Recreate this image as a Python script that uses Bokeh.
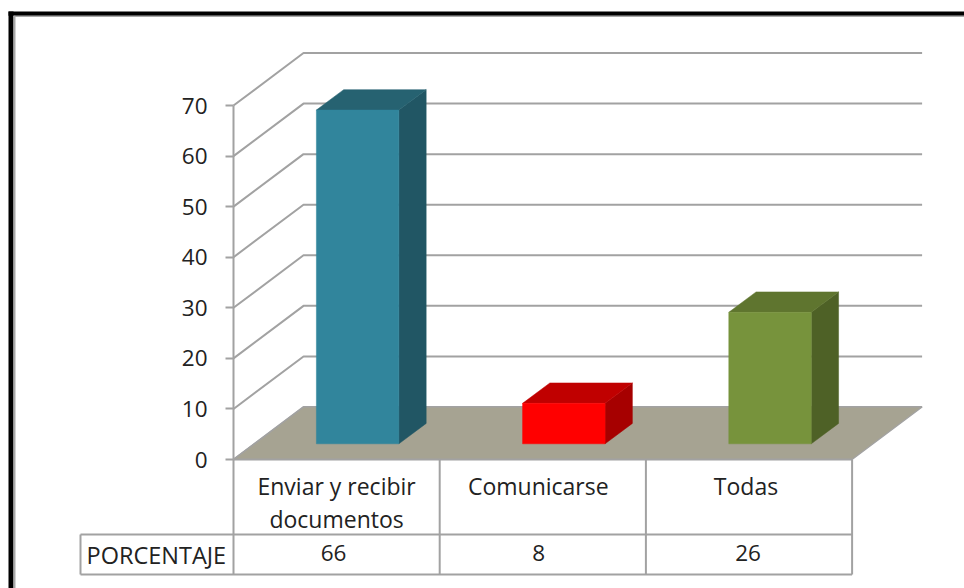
from bokeh.plotting import figure
from bokeh.models import LinearAxis, FixedTicker, Range1d
from bokeh.core.properties import value
from bokeh.embed import file_html
from bokeh.resources import INLINE

categories = ["Enviar y recibir\ndocumentos", "Comunicarse", "Todas"]
values = [66, 8, 26]
y_ticks = [0, 10, 20, 30, 40, 50, 60, 70]
row_name = "PORCENTAJE"

front_colors = ["#31859C", "#FF0000", "#77933C"]
top_colors = ["#266271", "#C00000", "#5F752F"]
side_colors = ["#215664", "#A60000", "#4E6126"]
GREY = "#A2A2A2"
FLOOR = "#A6A392"
TEXT = "#222222"
FONT = "Open Sans"
SIZE = "22.5px"

W, H = 964, 588
X0, Y0 = 233, 459
PX_X = 206.2
PX_Y = 5.057
LW = 2.0


def dx(px):
    return (px - X0) / PX_X


def dy(px):
    return (Y0 - px) / PX_Y


wall_dx, wall_dy = 70.0 / PX_X, 52.5 / PX_Y
bar_off, bar_w = 0.402, 0.400
bar_rise_y = 15.7 / PX_Y
bar_dx, bar_dy = 27.3 / PX_X, 20.4 / PX_Y
cat_nudge = [0, -4.5, -3]
val_nudge = [-3, -4, -1]

p = figure(width=W, height=H, output_backend="svg", toolbar_location=None,
           x_axis_location=None, y_axis_location=None,
           x_range=Range1d(dx(0), dx(W)), y_range=Range1d(dy(H), dy(0)),
           min_border=0, outline_line_color=None,
           background_fill_color="white", border_fill_color="white")
p.grid.visible = False
n = len(categories)

# walls
for t in y_ticks:
    p.line([0, wall_dx, n + wall_dx], [t, t + wall_dy, t + wall_dy],
           line_color=GREY, line_width=LW)

# floor
p.patch([0, wall_dx, n + wall_dx, n], [0, wall_dy, wall_dy, 0],
        fill_color=FLOOR, line_color=GREY, line_width=1.2)

# bars
for i, v in enumerate(values):
    x0 = i + bar_off
    x1 = x0 + bar_w
    y0 = bar_rise_y
    y1 = bar_rise_y + v
    p.patch([x1, x1 + bar_dx, x1 + bar_dx, x1],
            [y0, y0 + bar_dy, y1 + bar_dy, y1],
            fill_color=side_colors[i], line_color=side_colors[i], line_width=0.5)
    p.patch([x0, x0 + bar_dx, x1 + bar_dx, x1],
            [y1, y1 + bar_dy, y1 + bar_dy, y1],
            fill_color=top_colors[i], line_color=top_colors[i], line_width=0.5)
    p.patch([x0, x1, x1, x0], [y0, y0, y1, y1],
            fill_color=front_colors[i], line_color=front_colors[i], line_width=0.5)

# table lines
row1 = dy(534)
row2 = dy(574)
head = dx(80)
for yy, a in [(0, 0), (row1, head), (row2, head)]:
    p.line([a, n], [yy, yy], line_color=GREY, line_width=LW)
for i in range(n + 1):
    p.line([i, i], [0, row2], line_color=GREY, line_width=LW)
p.line([head, head], [row1, row2], line_color=GREY, line_width=LW)

p.text([dx(86)], [(row1 + row2) / 2], text=[row_name], text_font=value(FONT),
       text_font_size="23.5px", text_color=TEXT, text_baseline="middle", text_align="left")

# value axis
yax = LinearAxis(ticker=FixedTicker(ticks=y_ticks), bounds=(0, 70), fixed_location=0)
yax.axis_line_color = GREY
yax.axis_line_width = LW
yax.major_tick_line_color = GREY
yax.major_tick_line_width = LW
yax.major_tick_in = 0
yax.major_tick_out = 8
yax.minor_tick_line_color = None
yax.major_label_standoff = 18
yax.major_label_text_font = FONT
yax.major_label_text_font_size = SIZE
yax.major_label_text_color = TEXT
p.add_layout(yax, "left")


def table_axis(labels, nudges, location, standoff, size):
    ticks = [i + 0.5 + nudges[i] / PX_X for i in range(n)]
    ax = LinearAxis(ticker=FixedTicker(ticks=ticks),
                    major_label_overrides=dict(zip(ticks, labels)),
                    fixed_location=location)
    ax.axis_line_color = None
    ax.major_tick_line_color = None
    ax.minor_tick_line_color = None
    ax.major_tick_in = 0
    ax.major_tick_out = 0
    ax.major_label_standoff = standoff
    ax.major_label_text_font = FONT
    ax.major_label_text_font_size = size
    ax.major_label_text_color = TEXT
    ax.major_label_text_line_height = 1.05
    ax.major_label_orientation = "horizontal"
    return ax


p.add_layout(table_axis(categories, cat_nudge, 0, 10, "23px"), "below")
p.add_layout(table_axis([str(v) for v in values], val_nudge, row1, 10, SIZE), "below")

# outer frame
p.quad(left=[dx(8), dx(8)], right=[dx(13), dx(W)], top=[dy(11), dy(11)], bottom=[dy(H), dy(15.3)],
       fill_color="#000000", line_color=None, level="overlay")
p.quad(left=[dx(13), dx(13)], right=[dx(15), dx(W)], top=[dy(15.3), dy(15.3)], bottom=[dy(H), dy(16.5)],
       fill_color="#A8A8A8", line_color=None, level="overlay")

open("out.html", "w").write(file_html(p, INLINE))
